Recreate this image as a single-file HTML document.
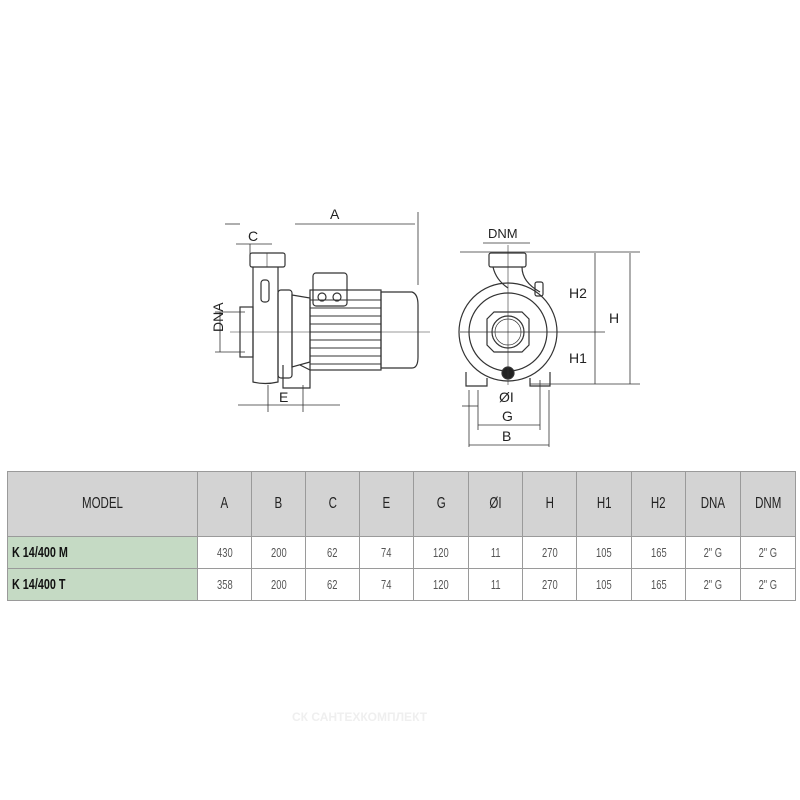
<!DOCTYPE html>
<html><head><meta charset="utf-8"><style>
body{margin:0;background:#fff;width:800px;height:800px;overflow:hidden;position:relative;font-family:"Liberation Sans",sans-serif}
svg{position:absolute;left:0;top:0}
table{position:absolute;left:7px;top:471px;border-collapse:collapse;font-family:"Liberation Sans",sans-serif;}
td{border:1px solid #9a9a9a;text-align:center;font-size:13px;color:#555;padding:0}
tr.h td{background:#d3d3d3;height:64px;font-size:16px;color:#222}
tr.r td{height:31px;background:#fff}
tr.r td.m{background:#c5dac4;text-align:left;padding-left:4px;font-weight:bold;font-size:15px;color:#111}
span.n{display:inline-block;transform:scaleX(0.72)}
</style></head><body>
<svg width="800" height="800" viewBox="0 0 800 800" fill="none" stroke="#333" stroke-width="1.2">
<g>
<rect x="250" y="253" width="35" height="14" rx="2"/>
<line x1="267" y1="253" x2="267" y2="267" stroke-width="0.6"/>
<path d="M253 267 L253 382 Q265 385 278 382 L278 267"/>
<rect x="261" y="280" width="8" height="22" rx="3"/>
<rect x="240" y="307" width="13" height="50"/>
<rect x="278" y="290" width="14" height="88" rx="3"/>
<path d="M292 295 L310 298 L310 362 L292 367 Z"/>
<path d="M283 365 L283 388 L310 388 L310 370 L300 365"/>
<rect x="310" y="290" width="71" height="80"/>
<g stroke-width="0.9">
<line x1="310" y1="300" x2="381" y2="300"/><line x1="310" y1="308" x2="381" y2="308"/>
<line x1="310" y1="316" x2="381" y2="316"/><line x1="310" y1="324" x2="381" y2="324"/>
<line x1="310" y1="332" x2="381" y2="332"/><line x1="310" y1="340" x2="381" y2="340"/>
<line x1="310" y1="348" x2="381" y2="348"/><line x1="310" y1="356" x2="381" y2="356"/>
<line x1="310" y1="364" x2="381" y2="364"/>
</g>
<path d="M381 292 L412 292 Q418 294 418 305 L418 357 Q418 368 412 368 L381 368 Z"/>
<rect x="313" y="273" width="34" height="33" rx="3"/>
<circle cx="322" cy="297" r="4"/><circle cx="337" cy="297" r="4"/>
<line x1="230" y1="332" x2="430" y2="332" stroke-width="0.6"/>
</g>
<g stroke-width="0.8">
<line x1="225" y1="224" x2="240" y2="224"/><line x1="236" y1="244" x2="272" y2="244"/>
<line x1="250" y1="244" x2="250" y2="260"/>
<line x1="295" y1="224" x2="415" y2="224"/><line x1="418" y1="212" x2="418" y2="285"/>
<line x1="220" y1="312" x2="220" y2="352"/><line x1="215" y1="312" x2="245" y2="312"/><line x1="215" y1="352" x2="245" y2="352"/>
<line x1="238" y1="405" x2="340" y2="405"/><line x1="268" y1="385" x2="268" y2="412"/><line x1="303" y1="385" x2="303" y2="412"/>
<line x1="460" y1="252" x2="640" y2="252"/>
<line x1="595" y1="253" x2="595" y2="384"/><line x1="630" y1="253" x2="630" y2="384"/>
<line x1="460" y1="332" x2="605" y2="332"/>
<line x1="530" y1="384" x2="640" y2="384"/>
<line x1="469" y1="390" x2="469" y2="447"/><line x1="549" y1="390" x2="549" y2="447"/>
<line x1="478" y1="390" x2="478" y2="430"/><line x1="540" y1="380" x2="540" y2="430"/>
<line x1="462" y1="406" x2="478" y2="406"/>
<line x1="478" y1="425" x2="540" y2="425"/><line x1="469" y1="445" x2="549" y2="445"/>
<line x1="483" y1="243" x2="530" y2="243"/>
</g>
<g>
<rect x="489" y="253" width="37" height="14" rx="2"/>
<path d="M493 267 Q496 280 508 288 M522 267 Q522 282 540 292"/>
<rect x="535" y="282" width="8" height="14" rx="2"/>
<circle cx="508" cy="332" r="49"/>
<circle cx="508" cy="332" r="39"/>
<path d="M494 312 L522 312 L529 319 L529 345 L522 352 L494 352 L487 345 L487 319 Z"/>
<circle cx="508" cy="332" r="16"/><circle cx="508" cy="332" r="13" stroke-width="0.7"/>
<path d="M466 372 L466 386 L487 386 L487 378"/><path d="M530 378 L530 386 L550 386 L550 372"/>
<circle cx="508" cy="373" r="6" fill="#222"/>
<line x1="508" y1="245" x2="508" y2="385" stroke-width="0.6"/>
</g>
<g fill="#222" stroke="none" font-family="Liberation Sans,sans-serif" font-size="14">
<text x="330" y="219">A</text><text x="248" y="241">C</text>
<text x="208" y="347" transform="rotate(-90 208 332)">DNA</text>
<text x="279" y="402">E</text>
<text x="488" y="238" font-size="13">DNM</text>
<text x="569" y="298">H2</text><text x="609" y="323">H</text><text x="569" y="363">H1</text>
<text x="499" y="402">ØI</text><text x="502" y="421">G</text><text x="502" y="441">B</text>
</g>
<text x="292" y="721" font-size="12" font-weight="bold" fill="#efefef" stroke="none" font-family="Liberation Sans,sans-serif">СК САНТЕХКОМПЛЕКТ</text>
</svg>
<table>
<colgroup><col style="width:190px"><col style="width:54px"><col style="width:54px"><col style="width:54px"><col style="width:54px"><col style="width:55px"><col style="width:54px"><col style="width:54px"><col style="width:55px"><col style="width:54px"><col style="width:55px"><col style="width:55px"></colgroup>
<tr class="h"><td><span class="n">MODEL</span></td><td><span class="n">A</span></td><td><span class="n">B</span></td><td><span class="n">C</span></td><td><span class="n">E</span></td><td><span class="n">G</span></td><td><span class="n">ØI</span></td><td><span class="n">H</span></td><td><span class="n">H1</span></td><td><span class="n">H2</span></td><td><span class="n">DNA</span></td><td><span class="n">DNM</span></td></tr>
<tr class="r"><td class="m"><span class="n" style="transform-origin:left">K 14/400 M</span></td><td><span class="n">430</span></td><td><span class="n">200</span></td><td><span class="n">62</span></td><td><span class="n">74</span></td><td><span class="n">120</span></td><td><span class="n">11</span></td><td><span class="n">270</span></td><td><span class="n">105</span></td><td><span class="n">165</span></td><td><span class="n">2" G</span></td><td><span class="n">2" G</span></td></tr>
<tr class="r"><td class="m"><span class="n" style="transform-origin:left">K 14/400 T</span></td><td><span class="n">358</span></td><td><span class="n">200</span></td><td><span class="n">62</span></td><td><span class="n">74</span></td><td><span class="n">120</span></td><td><span class="n">11</span></td><td><span class="n">270</span></td><td><span class="n">105</span></td><td><span class="n">165</span></td><td><span class="n">2" G</span></td><td><span class="n">2" G</span></td></tr>
</table>
</body></html>
